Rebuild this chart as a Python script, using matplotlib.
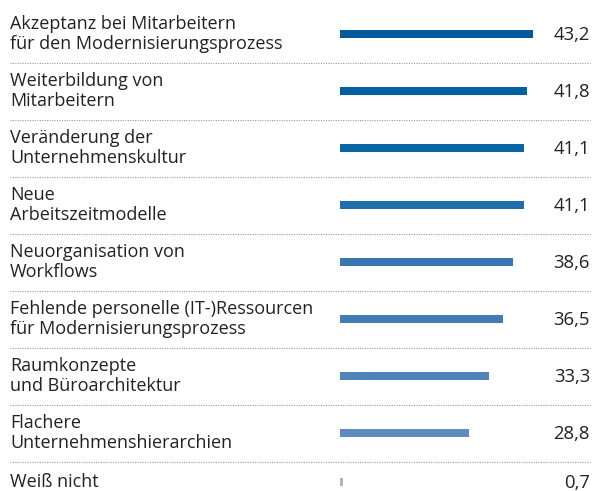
import numpy as np
import matplotlib
matplotlib.use('Agg')
import matplotlib.pyplot as plt
import matplotlib.transforms as mtransforms

# Data
labels = [
    'Akzeptanz bei Mitarbeitern\nfür den Modernisierungsprozess',
    'Weiterbildung von\nMitarbeitern',
    'Veränderung der\nUnternehmenskultur',
    'Neue\nArbeitszeitmodelle',
    'Neuorganisation von\nWorkflows',
    'Fehlende personelle (IT-)Ressourcen\nfür Modernisierungsprozess',
    'Raumkonzepte\nund Büroarchitektur',
    'Flachere\nUnternehmenshierarchien',
    'Weiß nicht',
]
values = [43.2, 41.8, 41.1, 41.1, 38.6, 36.5, 33.3, 28.8, 0.7]
value_labels = ['43,2', '41,8', '41,1', '41,1', '38,6', '36,5', '33,3', '28,8', '0,7']
colors = ['#005a9c', '#0061a0', '#0966a3', '#1f6ea9', '#3777b0',
          '#437cb5', '#4f83ba', '#5f8cc0', '#b3b3b3']

# row positions (last row is a single line, so it sits a bit closer)
rows = np.arange(len(values), dtype=float)
rows[-1] = 7.86

plt.rcParams['font.family'] = ['Open Sans', 'DejaVu Sans']

W, H = 593, 491
fig = plt.figure(figsize=(W / 100, H / 100), dpi=100)
ax = fig.add_axes([340 / W, 0, 1 - 340 / W, 1])
ax.set_xlim(0, 253 / 4.47)
ax.set_ylim((H - 34) / 57, -34 / 57)
ax.axis('off')

ax.barh(rows, values, height=8 / 57, color=colors)

trans = mtransforms.blended_transform_factory(fig.transFigure, ax.transData)
for y, lab, vl in zip(rows, labels, value_labels):
    fig.text(10 / W, y, lab, transform=trans, ha='left', va='center',
             fontsize=13, color='#222222', linespacing=1.12)
    fig.text(590 / W, y + 0.02, vl, transform=trans, ha='right', va='center',
             fontsize=13.3, color='#222222')

# dotted separators
for y in np.arange(8) + 0.5:
    fig.add_artist(plt.Line2D([10 / W, 590 / W], [y, y], transform=trans,
                              color='#999999', linewidth=0.8,
                              linestyle=(0, (1, 1.2))))

fig.savefig('out.png', dpi=100)
